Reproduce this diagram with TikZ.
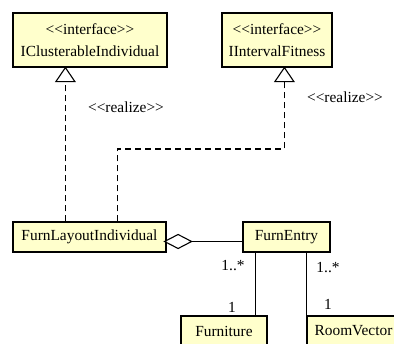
\documentclass[tikz,border=0pt]{standalone}
\usepackage{fontspec}
\setmainfont{Liberation Serif}[Ligatures=ResetAll]
\usetikzlibrary{calc}
\definecolor{classfill}{RGB}{255,255,204}
\newcommand{\stereo}[1]{<\kern0pt<#1>\kern0pt>}
\begin{document}
\begin{tikzpicture}[x=1pt,y=-1pt,
  every node/.style={font=\fontsize{15.4}{22}\selectfont},
  umlclass/.style={draw=black, fill=classfill, line width=1.2pt, rectangle,
    inner sep=0pt, minimum height=30pt, align=center},
  realize/.style={line width=1.1pt, dash pattern=on 6pt off 4pt},
  hollowtip/.style={line width=1.1pt, fill=white, line join=miter},
  assoc/.style={line width=1.1pt},
  lbl/.style={inner sep=0pt}]
\useasboundingbox (0,0) rectangle (394,344);
\begin{scope}
\clip (0,0) rectangle (394,344);

% classes and interfaces
\node[umlclass, minimum width=154pt, minimum height=54pt] (ici) at (90,40)
  {\stereo{interface}\\IClusterableIndividual};
\node[umlclass, minimum width=110pt, minimum height=54pt] (iif) at (277,40)
  {\stereo{interface}\\IIntervalFitness};
\node[umlclass, minimum width=153pt] (fli) at (89.5,237) {FurnLayoutIndividual};
\node[umlclass, minimum width=87pt] (fe) at (286.5,237) {FurnEntry};
\node[umlclass, minimum width=86pt] (furn) at (224,331) {Furniture};
\node[umlclass, minimum width=93pt] (rv) at (353.5,331) {RoomVector};

% realization tips: hollow triangles under the interfaces
\coordinate (t1) at ([xshift=53pt]ici.south west);
\coordinate (t2) at ([xshift=63pt]iif.south west);
\coordinate (b1) at ($(t1)+(0,14)$);
\coordinate (b2) at ($(t2)+(0,14)$);
\draw[hollowtip] (t1) -- ++(-9.5,14) -- ++(19,0) -- cycle;
\draw[hollowtip] (t2) -- ++(-9.5,14) -- ++(19,0) -- cycle;

% realizations
\draw[realize] ([xshift=53pt]fli.north west) -- (b1);
\draw[realize] ([xshift=105pt]fli.north west) |- (b2 |- 0,149) -- (b2);
\node[lbl] (r1) at (126,107) {\stereo{realize}};
\node[lbl] (r2) at (345,97) {\stereo{realize}};

% aggregation: hollow diamond on the whole side
\coordinate (d0) at ([yshift=-4.5pt]fli.east);
\coordinate (d1) at ($(d0)+(25,0)$);
\draw[hollowtip] ($(d0)+(-2,0)$) -- ++(13.5,-7) -- (d1) -- ++(-13.5,7) -- cycle;
\draw[assoc] (d1) -- (d1 -| fe.west);

% associations
\draw[assoc] ([xshift=13pt]fe.south west) -- ([xshift=13pt]fe.south west |- furn.north);
\draw[assoc] (rv.north west |- fe.south) -- (rv.north west);

% multiplicities
\node[lbl] (m1) at (233,266) {1..*};
\node[lbl] (m2) at (232,307) {1};
\node[lbl] (m3) at (328,268) {1..*};
\node[lbl] (m4) at (328,304) {1};
\end{scope}
\end{tikzpicture}
\end{document}
